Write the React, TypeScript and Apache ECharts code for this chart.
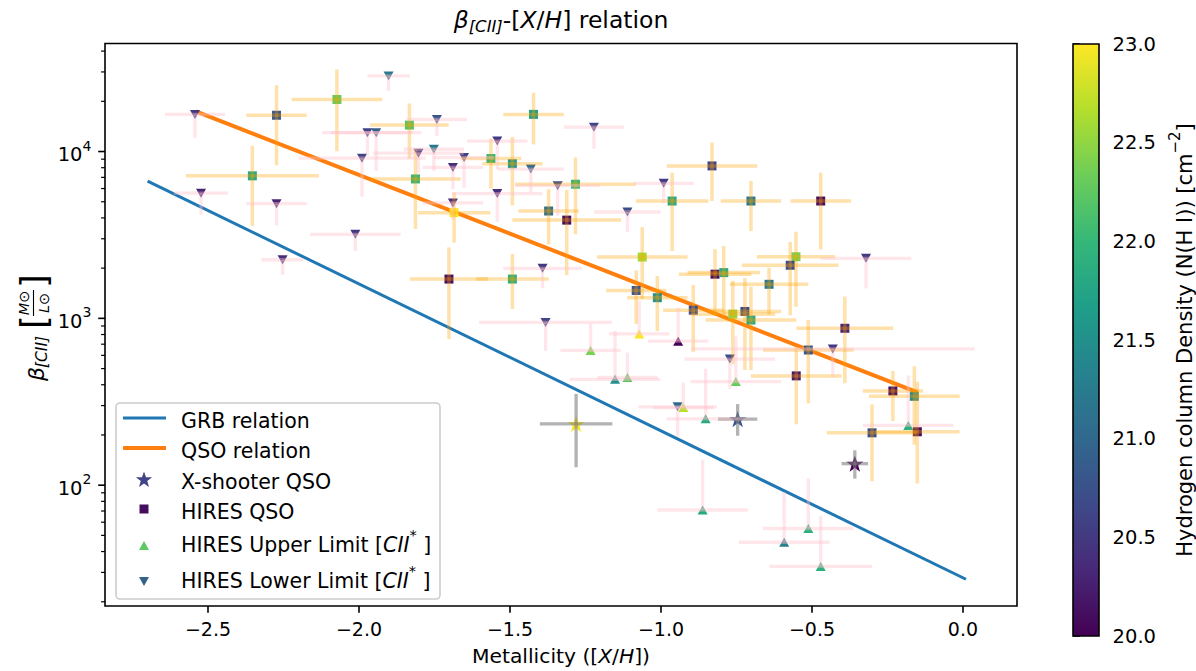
import React, { useEffect, useRef } from 'react';
import * as echarts from 'echarts';

const FONT = 'DejaVu Sans';
const VIRIDIS = ['#440154', '#482878', '#3e4a89', '#31688e', '#26828e', '#1f9e89', '#35b779', '#6dcd59', '#b4de2c', '#fde725'];

// axis ranges / ticks
const X_MIN = -2.841;
const X_MAX = 0.179;
const Y_MIN = 18.87;
const Y_MAX = 44420;
const X_TICKS = [-2.5, -2.0, -1.5, -1.0, -0.5, 0.0];
const Y_MAJOR = [100, 1000, 10000];
const Y_MINOR = [20, 30, 40, 50, 60, 70, 80, 90, 200, 300, 400, 500, 600, 700, 800, 900, 2000, 3000, 4000, 5000, 6000, 7000, 8000, 9000, 20000, 30000, 40000];
const CB_MIN = 20.0;
const CB_MAX = 23.0;

// relations: [metallicity, beta]
const GRB_RELATION = [[-2.7, 6650], [0.01, 27.3]];
const QSO_RELATION = [[-2.54, 17400], [-0.15, 360]];

// X-shooter QSO: [x, beta, xerr, upDex, downDex, logNHI]
const XSHOOTER = [
  [-1.281, 233, 0.12, 0.18, 0.26, 23.0],
  [-0.746, 249, 0.065, 0.09, 0.10, 20.8],
  [-0.358, 134.6, 0.044, 0.08, 0.09, 20.0],
];

// HIRES QSO: [x, beta, xerr, upDex, downDex, logNHI]
const HIRES_QSO = [
  [-2.273, 16500, 0.10, 0.18, 0.30, 20.8],
  [-2.073, 20500, 0.15, 0.18, 0.31, 22.3],
  [-1.833, 14400, 0.13, 0.13, 0.20, 22.2],
  [-2.353, 7150, 0.22, 0.18, 0.30, 21.8],
  [-1.813, 6850, 0.15, 0.18, 0.30, 22.0],
  [-1.422, 16700, 0.10, 0.13, 0.18, 21.7],
  [-1.563, 9080, 0.10, 0.12, 0.18, 22.0],
  [-1.492, 8450, 0.10, 0.16, 0.25, 21.6],
  [-1.283, 6370, 0.20, 0.16, 0.30, 22.0],
  [-0.963, 5050, 0.12, 0.17, 0.30, 21.8],
  [-1.685, 4300, 0.12, 0.12, 0.18, 23.0],
  [-1.372, 4400, 0.10, 0.13, 0.20, 21.1],
  [-1.312, 3880, 0.18, 0.18, 0.33, 20.1],
  [-1.062, 2330, 0.15, 0.18, 0.25, 22.6],
  [-1.702, 1720, 0.13, 0.19, 0.36, 20.1],
  [-1.492, 1720, 0.12, 0.15, 0.18, 21.9],
  [-1.082, 1470, 0.10, 0.12, 0.20, 20.8],
  [-1.012, 1330, 0.10, 0.13, 0.20, 21.5],
  [-0.831, 8200, 0.15, 0.14, 0.21, 20.6],
  [-0.702, 5050, 0.10, 0.12, 0.18, 21.2],
  [-0.471, 5050, 0.10, 0.17, 0.29, 20.1],
  [-0.553, 2340, 0.13, 0.15, 0.30, 22.4],
  [-0.572, 2080, 0.16, 0.14, 0.30, 20.7],
  [-0.821, 1840, 0.12, 0.15, 0.25, 20.1],
  [-0.792, 1880, 0.12, 0.16, 0.28, 21.8],
  [-0.642, 1600, 0.13, 0.10, 0.18, 21.2],
  [-0.893, 1120, 0.10, 0.15, 0.25, 20.7],
  [-0.762, 1060, 0.14, 0.20, 0.30, 22.5],
  [-0.722, 1100, 0.12, 0.20, 0.35, 20.7],
  [-0.702, 977, 0.15, 0.20, 0.30, 21.8],
  [-0.391, 872, 0.16, 0.19, 0.33, 20.3],
  [-0.512, 646, 0.15, 0.18, 0.32, 20.8],
  [-0.552, 452, 0.15, 0.17, 0.29, 20.2],
  [-0.232, 367, 0.10, 0.12, 0.18, 20.1],
  [-0.161, 341, 0.15, 0.18, 0.29, 21.4],
  [-0.301, 206, 0.15, 0.17, 0.29, 20.7],
  [-0.151, 209, 0.14, 0.30, 0.31, 20.1],
];

// HIRES upper limits: [x, beta, xerr, upDex, logNHI]
const HIRES_UPPER = [
  [-1.233, 642, 0.10, 0.16, 22.4],
  [-1.072, 807, 0.10, 0.20, 23.0],
  [-0.943, 730, 0.10, 0.20, 20.0],
  [-1.152, 431, 0.15, 0.29, 21.5],
  [-1.111, 442, 0.10, 0.15, 22.2],
  [-0.926, 292, 0.10, 0.15, 22.7],
  [-0.752, 418, 0.15, 0.27, 22.3],
  [-0.852, 250, 0.13, 0.30, 21.8],
  [-0.862, 71, 0.15, 0.30, 21.8],
  [-0.512, 55, 0.15, 0.30, 21.9],
  [-0.592, 45.5, 0.15, 0.30, 21.3],
  [-0.471, 32.6, 0.17, 0.30, 21.9],
  [-0.181, 228, 0.15, 0.30, 21.9],
];

// HIRES lower limits: [x, beta, xerr, downDex, logNHI]
const HIRES_LOWER = [
  [-2.543, 16700, 0.10, 0.14, 20.5],
  [-1.902, 28400, 0.07, 0.09, 21.2],
  [-1.742, 15560, 0.10, 0.10, 20.8],
  [-1.222, 14000, 0.10, 0.13, 20.6],
  [-1.542, 11560, 0.10, 0.17, 20.5],
  [-1.972, 12980, 0.15, 0.14, 20.6],
  [-1.943, 12980, 0.15, 0.23, 20.9],
  [-1.803, 9770, 0.15, 0.12, 20.5],
  [-1.990, 9120, 0.21, 0.23, 20.6],
  [-1.752, 10320, 0.10, 0.13, 21.2],
  [-1.652, 9200, 0.10, 0.18, 20.6],
  [-1.689, 8030, 0.10, 0.13, 20.4],
  [-1.431, 7850, 0.11, 0.14, 21.0],
  [-1.342, 6240, 0.14, 0.18, 20.7],
  [-0.991, 6450, 0.10, 0.12, 20.5],
  [-1.542, 5600, 0.15, 0.17, 20.4],
  [-1.689, 4920, 0.10, 0.10, 20.4],
  [-1.111, 4340, 0.11, 0.12, 20.7],
  [-1.392, 1995, 0.13, 0.12, 20.5],
  [-2.523, 5630, 0.09, 0.13, 20.3],
  [-2.273, 4870, 0.10, 0.13, 20.3],
  [-2.012, 3190, 0.15, 0.10, 20.5],
  [-2.253, 2245, 0.07, 0.09, 20.4],
  [-0.321, 2290, 0.15, 0.18, 20.5],
  [-0.431, 656, 0.47, 0.17, 20.5],
  [-0.772, 570, 0.15, 0.18, 20.7],
  [-1.382, 946, 0.22, 0.17, 20.6],
  [-0.945, 295, 0.13, 0.18, 21.0],
];

const STAR_PATH = 'path://M50,0 L61.8,34.5 L97.6,34.5 L68.8,55.9 L79.4,90.5 L50,69.1 L20.6,90.5 L31.2,55.9 L2.4,34.5 L38.2,34.5 Z';

function starPoints(cx: number, cy: number, R: number, r: number) {
  const pts: number[][] = [];
  for (let i = 0; i < 10; i++) {
    const a = -Math.PI / 2 + (i * Math.PI) / 5;
    const rr = i % 2 === 0 ? R : r;
    pts.push([cx + rr * Math.cos(a), cy + rr * Math.sin(a)]);
  }
  return pts;
}

function errRenderer(color: string, width: number) {
  return (params: any, api: any) => {
    const x = api.value(0);
    const y = api.value(1);
    const c = api.coord([x, y]);
    const l = api.coord([api.value(2), y]);
    const r = api.coord([api.value(3), y]);
    const b = api.coord([x, api.value(4)]);
    const t = api.coord([x, api.value(5)]);
    return {
      type: 'group',
      children: [
        { type: 'line', shape: { x1: l[0], y1: c[1], x2: r[0], y2: c[1] }, style: { stroke: color, lineWidth: width } },
        { type: 'line', shape: { x1: c[0], y1: t[1], x2: c[0], y2: b[1] }, style: { stroke: color, lineWidth: width } },
      ],
    };
  };
}

const fmtX = (v: number) => (v < 0 ? '\u2212' + Math.abs(v).toFixed(1) : v.toFixed(1));

export default function App() {
  const ref = useRef<HTMLDivElement>(null);
  useEffect(() => {
    if (!ref.current) return;
    const chart = echarts.init(ref.current, null, { renderer: 'svg' });

    const xsData = XSHOOTER.map((d) => [d[0], d[1], d[5]]);
    const qsoData = HIRES_QSO.map((d) => [d[0], d[1], d[5]]);
    const upData = HIRES_UPPER.map((d) => [d[0], d[1], d[4]]);
    const loData = HIRES_LOWER.map((d) => [d[0], d[1], d[4]]);

    const xsErr = XSHOOTER.map((d) => [d[0], d[1], d[0] - d[2], d[0] + d[2], d[1] / Math.pow(10, d[4]), d[1] * Math.pow(10, d[3])]);
    const qsoErr = HIRES_QSO.map((d) => [d[0], d[1], d[0] - d[2], d[0] + d[2], d[1] / Math.pow(10, d[4]), d[1] * Math.pow(10, d[3])]);
    const upErr = HIRES_UPPER.map((d) => [d[0], d[1], d[0] - d[2], d[0] + d[2], d[1], d[1] * Math.pow(10, d[3])]);
    const loErr = HIRES_LOWER.map((d) => [d[0], d[1], d[0] - d[2], d[0] + d[2], d[1] / Math.pow(10, d[3]), d[1]]);

    const tickRenderer = (len: number, w: number) => (params: any, api: any) => {
      const p = api.coord([api.value(0), api.value(1)]);
      return { type: 'line', shape: { x1: p[0] - len, y1: p[1], x2: p[0], y2: p[1] }, style: { stroke: '#000', lineWidth: w } };
    };

    const LF = 20.5;
    const legendX = 144;
    const legendRows = [418, 448, 479, 509, 542, 578];
    const txt = (y: number, text: string) => ({
      type: 'text',
      x: 181,
      y: y - 1,
      style: {
        text,
        fontFamily: FONT,
        fontSize: LF,
        fill: '#000',
        align: 'left',
        verticalAlign: 'middle',
        rich: {
          n: { fontFamily: FONT, fontSize: LF, lineHeight: 28, verticalAlign: 'bottom' },
          i: { fontFamily: FONT, fontSize: LF, fontStyle: 'italic', lineHeight: 28, verticalAlign: 'bottom' },
          s: { fontFamily: FONT, fontSize: 14.5, lineHeight: 15, verticalAlign: 'top' },
        },
      },
    });

    const option: any = {
      animation: false,
      backgroundColor: '#fff',
      textStyle: { fontFamily: FONT },
      grid: [
        { left: 105, top: 43.5, width: 912, height: 566.5, show: true, borderColor: '#000', borderWidth: 1.6, backgroundColor: 'transparent' },
        { left: 1073, top: 44, width: 30, height: 592, show: false },
      ],
      xAxis: [
        {
          type: 'value',
          gridIndex: 0,
          min: X_MIN,
          max: X_MAX,
          axisLine: { show: false },
          splitLine: { show: false },
          axisTick: { show: true, customValues: X_TICKS, length: 6.8, lineStyle: { color: '#000', width: 1.6 } },
          axisLabel: { customValues: X_TICKS, formatter: fmtX, fontSize: 19, color: '#000', margin: 13.6, fontFamily: FONT },
          name: '{n|Metallicity ([}{i|X}{n|/}{i|H}{n|])}',
          nameLocation: 'middle',
          nameGap: 40,
          nameTextStyle: {
            rich: {
              n: { fontFamily: FONT, fontSize: 20.3, color: '#000' },
              i: { fontFamily: FONT, fontSize: 20.3, fontStyle: 'italic', color: '#000' },
            },
          },
        },
        { type: 'value', gridIndex: 1, min: 0, max: 1, show: false },
      ],
      yAxis: [
        {
          type: 'log',
          logBase: 10,
          gridIndex: 0,
          min: Y_MIN,
          max: Y_MAX,
          axisLine: { show: false },
          splitLine: { show: false },
          axisTick: { show: false },
          minorTick: { show: false },
          axisLabel: {
            customValues: Y_MAJOR,
            margin: 13.6,
            formatter: (v: number) => `{b|10}{s|${Math.round(Math.log10(v))}}`,
            rich: {
              b: { fontFamily: FONT, fontSize: 19.5, color: '#000', lineHeight: 26, verticalAlign: 'bottom' },
              s: { fontFamily: FONT, fontSize: 14, color: '#000', lineHeight: 14, verticalAlign: 'top' },
            },
          },
        },
        {
          type: 'value',
          gridIndex: 1,
          position: 'right',
          min: CB_MIN,
          max: CB_MAX,
          interval: 0.5,
          axisLine: { show: false },
          splitLine: { show: false },
          axisTick: { show: true, length: 6.8, lineStyle: { color: '#000', width: 1.6 } },
          axisLabel: { formatter: (v: number) => v.toFixed(1), fontSize: 19.5, color: '#000', margin: 13.6, fontFamily: FONT },
          name: '{n|Hydrogen column Density (N(H I)) [cm}{s|\u22122}{n|]}',
          nameLocation: 'middle',
          nameRotate: 90,
          nameGap: 68,
          nameTextStyle: {
            rich: {
              n: { fontFamily: FONT, fontSize: 21, color: '#000', lineHeight: 28, verticalAlign: 'bottom' },
              s: { fontFamily: FONT, fontSize: 15, color: '#000', lineHeight: 15, verticalAlign: 'top' },
            },
          },
        },
      ],
      visualMap: {
        type: 'continuous',
        show: false,
        min: CB_MIN,
        max: CB_MAX,
        dimension: 2,
        seriesIndex: [2, 3, 4, 5],
        inRange: { color: VIRIDIS },
      },
      series: [
        { name: 'GRB relation', type: 'line', data: GRB_RELATION, showSymbol: false, symbol: 'none', lineStyle: { color: '#1f77b4', width: 3 }, z: 2, silent: true },
        { name: 'QSO relation', type: 'line', data: QSO_RELATION, showSymbol: false, symbol: 'none', lineStyle: { color: '#ff7f0e', width: 4 }, z: 2, silent: true },
        { name: 'X-shooter QSO', type: 'scatter', data: xsData, symbol: STAR_PATH, symbolKeepAspect: true, symbolSize: 17, itemStyle: { opacity: 1 }, z: 3 },
        { name: 'HIRES QSO', type: 'scatter', data: qsoData, symbol: 'rect', symbolSize: 9, itemStyle: { opacity: 1 }, z: 3 },
        { name: 'HIRES Upper Limit', type: 'scatter', data: upData, symbol: 'triangle', symbolSize: [10, 9], itemStyle: { opacity: 1 }, z: 3 },
        { name: 'HIRES Lower Limit', type: 'scatter', data: loData, symbol: 'triangle', symbolRotate: 180, symbolSize: [10, 9], itemStyle: { opacity: 1 }, z: 3 },
        { type: 'custom', data: xsErr, renderItem: errRenderer('rgba(128,128,128,0.6)', 3.3), z: 4, silent: true },
        { type: 'custom', data: qsoErr, renderItem: errRenderer('rgba(255,165,0,0.33)', 3.5), z: 4, silent: true },
        { type: 'custom', data: upErr, renderItem: errRenderer('rgba(255,192,203,0.4)', 3.3), z: 4, silent: true },
        { type: 'custom', data: loErr, renderItem: errRenderer('rgba(255,192,203,0.4)', 3.3), z: 4, silent: true },
        { type: 'custom', data: Y_MINOR.map((v) => [X_MIN, v]), renderItem: tickRenderer(3.9, 1.2), z: 5, silent: true },
        { type: 'custom', data: Y_MAJOR.map((v) => [X_MIN, v]), renderItem: tickRenderer(6.8, 1.6), z: 5, silent: true },
        {
          type: 'custom',
          xAxisIndex: 1,
          yAxisIndex: 1,
          data: [[0, CB_MIN]],
          silent: true,
          renderItem: (params: any, api: any) => {
            const a = api.coord([0, CB_MIN]);
            const b = api.coord([1, CB_MAX]);
            return {
              type: 'rect',
              shape: { x: a[0], y: b[1], width: b[0] - a[0], height: a[1] - b[1] },
              style: {
                fill: new echarts.graphic.LinearGradient(0, 1, 0, 0, VIRIDIS.map((c, i) => ({ offset: i / (VIRIDIS.length - 1), color: c }))),
                stroke: '#000',
                lineWidth: 1.6,
              },
            };
          },
        },
      ],
      graphic: [
        // title
        {
          type: 'text',
          x: 561,
          y: 20,
          z: 100,
          style: {
            text: '{b|\u03b2}{s|[CII]}{n|-[}{i|X}{n|/}{i|H}{n|] relation}',
            align: 'center',
            verticalAlign: 'middle',
            fill: '#000',
            rich: {
              b: { fontFamily: FONT, fontSize: 23.5, fontStyle: 'italic', lineHeight: 30, verticalAlign: 'middle' },
              s: { fontFamily: FONT, fontSize: 16.5, fontStyle: 'italic', lineHeight: 16, verticalAlign: 'bottom' },
              n: { fontFamily: FONT, fontSize: 23.5, lineHeight: 30, verticalAlign: 'middle' },
              i: { fontFamily: FONT, fontSize: 23.5, fontStyle: 'italic', lineHeight: 30, verticalAlign: 'middle' },
            },
          },
        },
        // y axis label (rotated)
        {
          type: 'group',
          x: 36,
          y: 381,
          rotation: Math.PI / 2,
          z: 100,
          children: [
            { type: 'text', x: 0, y: 0, style: { text: '\u03b2', fontFamily: FONT, fontSize: 22, fontStyle: 'italic', fill: '#000', align: 'left', verticalAlign: 'middle' } },
            { type: 'text', x: 13, y: 6, style: { text: '[CII]', fontFamily: FONT, fontSize: 15.5, fontStyle: 'italic', fill: '#000', align: 'left', verticalAlign: 'middle' } },
            { type: 'text', x: 52, y: -2, style: { text: '[', fontFamily: FONT, fontSize: 35, fill: '#000', align: 'left', verticalAlign: 'middle' } },
            { type: 'text', x: 78, y: -12, style: { text: 'M\u2299', fontFamily: FONT, fontSize: 14.5, fontStyle: 'italic', fill: '#000', align: 'center', verticalAlign: 'middle' } },
            { type: 'line', shape: { x1: 65, y1: -2.5, x2: 91, y2: -2.5 }, style: { stroke: '#000', lineWidth: 1.1 } },
            { type: 'text', x: 78, y: 8, style: { text: 'L\u2299', fontFamily: FONT, fontSize: 14.5, fontStyle: 'italic', fill: '#000', align: 'center', verticalAlign: 'middle' } },
            { type: 'text', x: 93, y: -2, style: { text: ']', fontFamily: FONT, fontSize: 35, fill: '#000', align: 'left', verticalAlign: 'middle' } },
          ],
        },
        // legend
        {
          type: 'group',
          z: 100,
          children: [
            { type: 'rect', shape: { x: 116, y: 403, width: 324, height: 196, r: 4 }, style: { fill: 'rgba(255,255,255,0.8)', stroke: '#cccccc', lineWidth: 1.6 } },
            { type: 'line', shape: { x1: 123, y1: legendRows[0], x2: 166, y2: legendRows[0] }, style: { stroke: '#1f77b4', lineWidth: 3 } },
            { type: 'line', shape: { x1: 123, y1: legendRows[1], x2: 166, y2: legendRows[1] }, style: { stroke: '#ff7f0e', lineWidth: 4 } },
            { type: 'polygon', shape: { points: starPoints(legendX, legendRows[2] + 1, 8.5, 3.4) }, style: { fill: '#414487' } },
            { type: 'rect', shape: { x: legendX - 4.5, y: legendRows[3] - 4.5, width: 9, height: 9 }, style: { fill: '#440d5e' } },
            { type: 'polygon', shape: { points: [[legendX, legendRows[4] - 1], [legendX + 5, legendRows[4] + 8], [legendX - 5, legendRows[4] + 8]] }, style: { fill: '#5ec962' } },
            { type: 'polygon', shape: { points: [[legendX - 5, legendRows[5] - 1], [legendX + 5, legendRows[5] - 1], [legendX, legendRows[5] + 8]] }, style: { fill: '#33638d' } },
            txt(legendRows[0], '{n|GRB relation}'),
            txt(legendRows[1], '{n|QSO relation}'),
            txt(legendRows[2], '{n|X-shooter QSO}'),
            txt(legendRows[3], '{n|HIRES QSO}'),
            txt(legendRows[4], '{n|HIRES Upper Limit [}{i|CII}{s|*}{n| ]}'),
            txt(legendRows[5], '{n|HIRES Lower Limit [}{i|CII}{s|*}{n| ]}'),
          ],
        },
      ],
    };

    chart.setOption(option);
    return () => chart.dispose();
  }, []);

  return <div ref={ref} style={{ position: 'fixed', left: 0, top: 0, width: 1196, height: 671, background: '#fff' }} />;
}
